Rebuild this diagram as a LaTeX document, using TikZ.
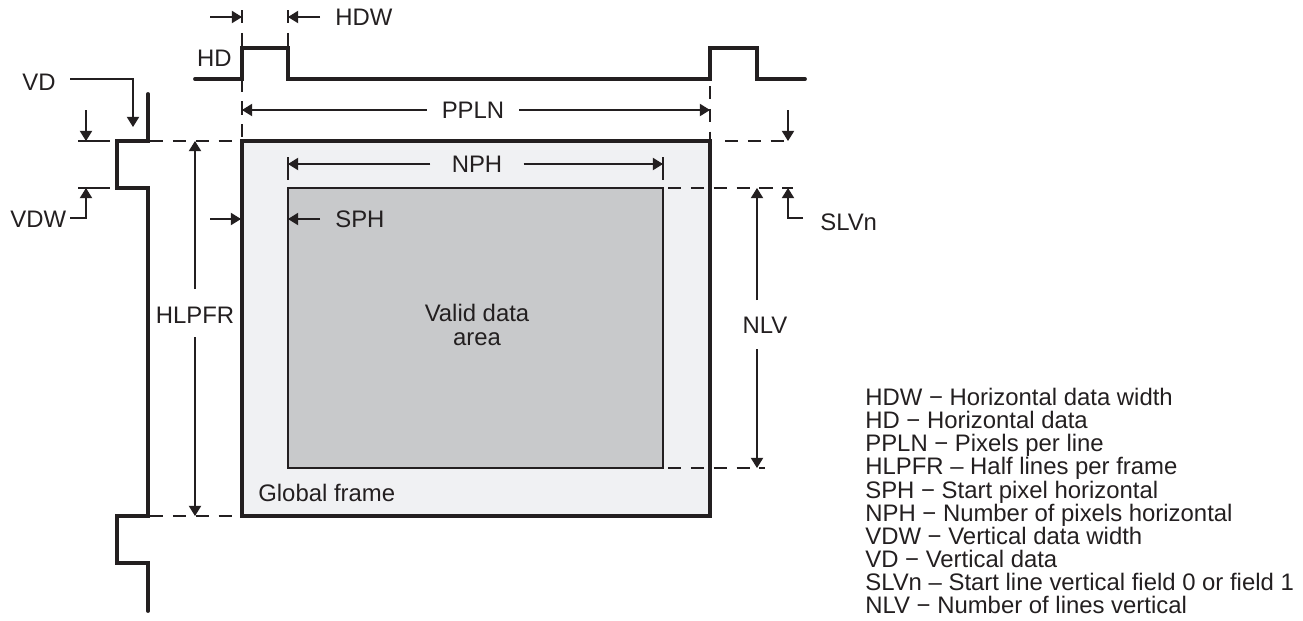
\documentclass[tikz,border=0pt]{standalone}
\usepackage{fontspec}
\setmainfont{Liberation Sans}
\usetikzlibrary{arrows.meta}

\definecolor{ink}{HTML}{231F20}
\definecolor{framegray}{HTML}{F0F1F3}
\definecolor{validgray}{HTML}{C8C9CB}

\tikzset{
    sig/.style={line width=2.2pt, line cap=round, line join=miter, draw=ink},
    dim/.style={line width=0.75pt, draw=ink},
    tip/.style={dim, -{Triangle[length=5.8pt,width=7pt]}},
    guide/.style={line width=0.75pt, draw=ink, dash pattern=on 7.5pt off 5.5pt},
    lbl/.style={inner sep=0pt, text=ink, font=\fontsize{13.6}{13.15}\selectfont},
}

\begin{document}
\begin{tikzpicture}[x=0.02cm, y=-0.02cm]
    \useasboundingbox (0,0) rectangle (1303,620);

    %% Global frame and valid data area
    \draw[fill=framegray, line width=2pt, draw=ink] (242,141) coordinate (gTL) rectangle (710,516) coordinate (gBR);
    \draw[fill=validgray, line width=1.4pt, draw=ink] (288,188) coordinate (vTL) rectangle (663,468) coordinate (vBR);
    \node[lbl, align=center] (valid) at (477,325) {Valid data\\area};
    \node[lbl, anchor=west] (global) at (258,493) {Global frame};

    %% HD signal
    \draw[sig] (195,79) -- (242,79) -- (242,48) -- (288,48) -- (288,79)
        -- (710,79) -- (710,48) -- (757,48) -- (757,79) -- (805,79);
    \node[lbl, anchor=east] (hd) at (232,58) {HD};

    % HDW
    \draw[guide] (242,10) -- (gTL);
    \draw[guide] (288,10) -- (288,48);
    \draw[tip] (210,17) -- (242,17);
    \draw[tip] (320,17) -- (288,17);
    \node[lbl, anchor=west] (hdw) at (335,17) {HDW};

    % PPLN
    \draw[guide] (710,86) -- (gTL -| gBR);
    \node[lbl, inner xsep=8.5pt] (ppln) at (473,110) {PPLN};
    \draw[tip] (ppln) -- (242,110);
    \draw[tip] (ppln) -- (710,110);

    %% VD signal
    \draw[sig] (148,94) -- (148,141) -- (117,141) -- (117,188) -- (148,188)
        -- (148,516) -- (117,516) -- (117,563) -- (148,563) -- (148,611);
    \node[lbl, anchor=west] (vd) at (22,82) {VD};
    \draw[tip] (70,79) -- (133,79) -- (133,127);

    % Frame top and bottom guides
    \draw[dim] (78,141) -- (110,141);
    \draw[tip] (86,110) -- (86,141);
    \draw[guide] (150,141) -- (gTL);
    \draw[guide] (150,516) -- (gTL |- gBR);

    % VDW
    \draw[dim] (78,188) -- (110,188);
    \node[lbl, anchor=west] (vdw) at (10,219) {VDW};
    \draw[tip] (70,218) -- (86,218) -- (86,188);

    % HLPFR
    \node[lbl] (hlpfr) at (195,315) {HLPFR};
    \draw[tip] (195,289) -- (195,141);
    \draw[tip] (195,337) -- (195,516);

    % SPH
    \draw[tip] (210,219) -- (241,219);
    \draw[tip] (320,219) -- (288,219);
    \node[lbl, anchor=west] (sph) at (335,219) {SPH};

    % NPH
    \draw[dim] (288,157) -- (288,180);
    \draw[dim] (663,157) -- (663,180);
    \node[lbl, inner xsep=12pt] (nph) at (477,164) {NPH};
    \draw[tip] (nph) -- (288,164);
    \draw[tip] (nph) -- (663,164);

    %% Right side guides
    \draw[guide] (725,141) -- (793,141);
    \draw[tip] (788,110) -- (788,141);
    \draw[guide] (vBR |- vTL) ++(5,0) -- (793,188);
    \draw[guide] (vBR) ++(5,0) -- (765,468);

    % NLV
    \node[lbl] (nlv) at (765,325) {NLV};
    \draw[tip] (757,300) -- (757,188);
    \draw[tip] (757,349) -- (757,468);

    % SLVn
    \draw[tip] (803,218) -- (788,218) -- (788,188);
    \node[lbl, anchor=west] (slvn) at (820,222) {SLVn};

    %% Legend
    \node[lbl, anchor=north west, align=left] (legend) at (865,388) {%
        HDW − Horizontal data width\\
        HD − Horizontal data\\
        PPLN − Pixels per line\\
        HLPFR – Half lines per frame\\
        SPH − Start pixel horizontal\\
        NPH − Number of pixels horizontal\\
        VDW − Vertical data width\\
        VD − Vertical data\\
        SLVn – Start line vertical field 0 or field 1\\
        NLV − Number of lines vertical};

\end{tikzpicture}
\end{document}
